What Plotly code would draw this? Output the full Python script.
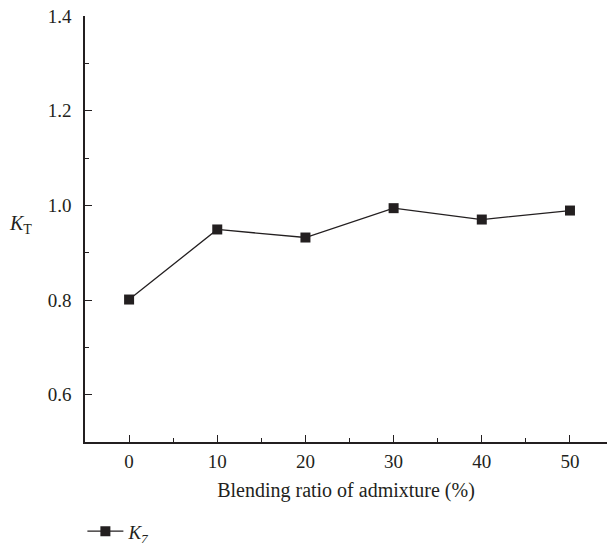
import plotly.graph_objects as go

ratios = [0, 10, 20, 30, 40, 50]
kt_values = [0.801, 0.949, 0.932, 0.994, 0.970, 0.989]
y_ticks = [0.6, 0.8, 1.0, 1.2, 1.4]
x_ticks = [0, 10, 20, 30, 40, 50]
series_name = "<i>K<sub>7</sub></i>"

ink = "#231f20"
font_family = "Liberation Serif, Times New Roman, serif"

fig = go.Figure()
fig.add_trace(go.Scatter(
    x=ratios, y=kt_values, mode="lines+markers", name=series_name,
    line=dict(color=ink, width=1.3),
    marker=dict(symbol="square", size=10, color=ink),
))

fig.update_layout(
    width=607, height=550,
    margin=dict(l=85, r=0, t=16, b=108, autoexpand=False),
    paper_bgcolor="white", plot_bgcolor="white",
    font=dict(family=font_family, size=19, color=ink),
    showlegend=True,
    legend=dict(
        x=-0.005, xanchor="left", y=-0.165, yanchor="top",
        orientation="h", bgcolor="rgba(0,0,0,0)", itemwidth=36,
        font=dict(size=19, family=font_family, color=ink),
    ),
    xaxis=dict(
        range=[-5, 54.2], tickvals=x_ticks, ticks="inside", ticklen=7,
        tickwidth=1.2, tickcolor=ink, showline=True, linecolor=ink,
        linewidth=1.5, showgrid=False, zeroline=False, automargin=False,
        ticklabelstandoff=1,
        minor=dict(tickvals=[5, 15, 25, 35, 45], ticks="inside", ticklen=4,
                   tickwidth=1.2, tickcolor=ink, showgrid=False),
        title=dict(text="Blending ratio of admixture (%)", standoff=12,
                   font=dict(size=20)),
        tickfont=dict(size=19),
    ),
    yaxis=dict(
        range=[0.5, 1.4], tickvals=y_ticks, ticktext=[f"{v:.1f}" for v in y_ticks],
        ticks="inside", ticklen=7, tickwidth=1.2, tickcolor=ink,
        showline=True, linecolor=ink, linewidth=1.5, showgrid=False,
        zeroline=False, automargin=False, ticklabelstandoff=8,
        minor=dict(tickvals=[0.7, 0.9, 1.1, 1.3], ticks="inside", ticklen=4,
                   tickwidth=1.2, tickcolor=ink, showgrid=False),
        tickfont=dict(size=19),
    ),
)

fig.add_annotation(
    text="<i>K</i><sub>T</sub>", xref="paper", yref="paper",
    x=-0.15, y=0.51, xanchor="left", yanchor="middle",
    showarrow=False, font=dict(size=20, family=font_family, color=ink),
)

fig.write_html("out.html", config={"displayModeBar": False},
               post_script="document.body.style.margin='0';")
